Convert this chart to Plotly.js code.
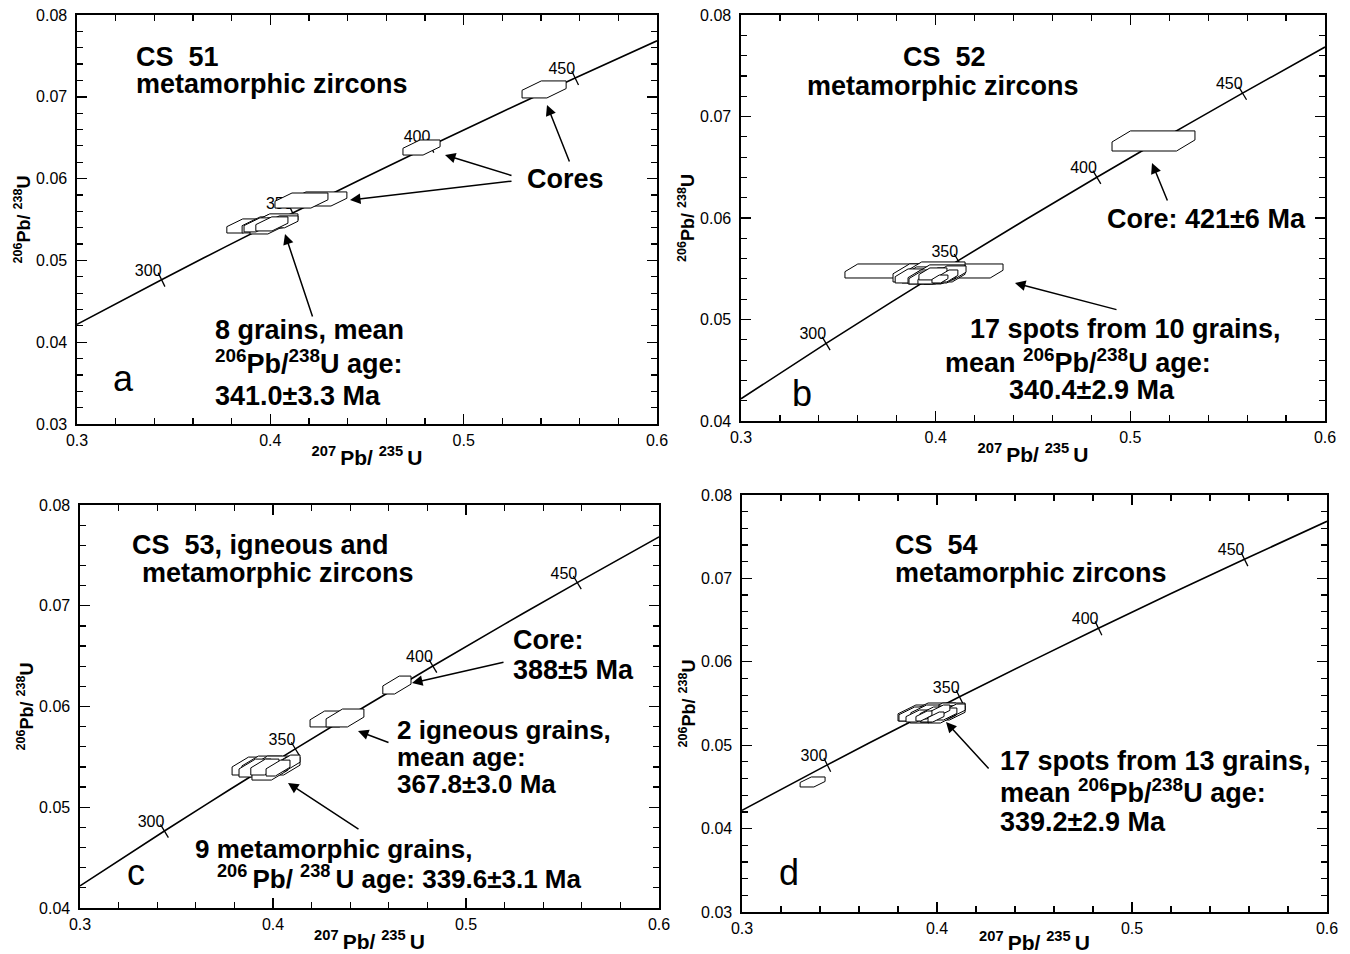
<!DOCTYPE html>
<html><head><meta charset="utf-8">
<script src="https://cdn.plot.ly/plotly-3.0.1.min.js"></script>
<style>html,body{margin:0;padding:0;background:#fff}#chart{width:1350px;height:954px}</style>
</head><body><div id="chart"></div>
<script>
// ---------- DATA ----------
// Concordia curve reference points (age in Ma, 207Pb/235U, 206Pb/238U)
const concAge = [266.4, 300, 325, 350, 375, 400, 425, 450, 477.2];
const concX = [0.3000, 0.34374, 0.37723, 0.41156, 0.44675, 0.48281, 0.51977, 0.55766, 0.6000];
const concY = [0.04219, 0.04764, 0.05171, 0.05580, 0.05990, 0.06402, 0.06815, 0.07230, 0.07684];
// Age tick marks on concordia
const tickLabels = ['300', '350', '400', '450'];
const tickX = [0.34374, 0.41156, 0.48281, 0.55766];
const tickY = [0.04764, 0.05580, 0.06402, 0.07230];

// Panel a (CS 51): error boxes centre x, centre y, half-width, half-height
const aX  = [0.5416, 0.4782, 0.4249, 0.4161, 0.3858, 0.3957, 0.3998, 0.4029, 0.3988, 0.3936, 0.4060, 0.4008];
const aY  = [0.0709, 0.0638, 0.05751, 0.05732, 0.05421, 0.05434, 0.05458, 0.05483, 0.05421, 0.05434, 0.05471, 0.05446];
const aSX = [0.0114, 0.0096, 0.0147, 0.0137, 0.0083, 0.0103, 0.0103, 0.0114, 0.0093, 0.0072, 0.0083, 0.0083];
const aSY = [0.00104, 0.00092, 0.00086, 0.00092, 0.00086, 0.00098, 0.00098, 0.00086, 0.00098, 0.00086, 0.00073, 0.00086];

// Panel b (CS 52)
const bX  = [0.5119, 0.3940, 0.3945, 0.3997, 0.3971, 0.3920, 0.4022, 0.3961, 0.4048, 0.3997, 0.3945, 0.4074, 0.4012, 0.4033, 0.3971, 0.4053, 0.3986, 0.4063, 0.4022];
const bY  = [0.06759, 0.05478, 0.05459, 0.05478, 0.05439, 0.05429, 0.05459, 0.05419, 0.05439, 0.05429, 0.05409, 0.05459, 0.05409, 0.05419, 0.05399, 0.05409, 0.05449, 0.05429, 0.05399];
const bSX = [0.0213, 0.0406, 0.0164, 0.0154, 0.0144, 0.0128, 0.0128, 0.0103, 0.0103, 0.0092, 0.0082, 0.0082, 0.0072, 0.0062, 0.0062, 0.0051, 0.0072, 0.0051, 0.0041];
const bSY = [0.00099, 0.00069, 0.00089, 0.00089, 0.00079, 0.00069, 0.00079, 0.00069, 0.00069, 0.00069, 0.00059, 0.00069, 0.00059, 0.00059, 0.00049, 0.00049, 0.00059, 0.00059, 0.00039];

// Panel c (CS 53)
const cX  = [0.4642, 0.4306, 0.4373, 0.3881, 0.3943, 0.4010, 0.4062, 0.3907, 0.3984, 0.4078, 0.3958, 0.4026];
const cY  = [0.06213, 0.05876, 0.05886, 0.05409, 0.05419, 0.05429, 0.05409, 0.05389, 0.05359, 0.05439, 0.05399, 0.05389];
const cSX = [0.0073, 0.0114, 0.0098, 0.0093, 0.0104, 0.0114, 0.0078, 0.0083, 0.0093, 0.0062, 0.0073, 0.0062];
const cSY = [0.00089, 0.00079, 0.00089, 0.00089, 0.00089, 0.00079, 0.00089, 0.00089, 0.00089, 0.00079, 0.00079, 0.00079];

// Panel d (CS 54)
const dX  = [0.3362, 0.3913, 0.3974, 0.4041, 0.3954, 0.4067, 0.3887, 0.4005, 0.3938, 0.4026, 0.4082, 0.3979, 0.3903, 0.4051, 0.3964, 0.4015, 0.3933, 0.3995];
const dY  = [0.04559, 0.05386, 0.05398, 0.05410, 0.05362, 0.05386, 0.05374, 0.05374, 0.05398, 0.05350, 0.05410, 0.05350, 0.05350, 0.05374, 0.05386, 0.05410, 0.05350, 0.05338];
const dSX = [0.0064, 0.0113, 0.0123, 0.0103, 0.0092, 0.0077, 0.0082, 0.0092, 0.0072, 0.0072, 0.0062, 0.0062, 0.0062, 0.0051, 0.0051, 0.0051, 0.0041, 0.0041];
const dSY = [0.0006, 0.00096, 0.00108, 0.00096, 0.00096, 0.00084, 0.00084, 0.00096, 0.00084, 0.00084, 0.00084, 0.00072, 0.00072, 0.00072, 0.00072, 0.00072, 0.0006, 0.0006];

// ---------- LAYOUT / STYLE ----------
const W = 1350, H = 954;
const FONT = 'Liberation Sans, Arial, Helvetica, sans-serif';
const CORR_SLOPE = 0.115;  // direction of error-box chamfer
const CUT_FRAC = 0.55;

const panels = [
  {id: '',  xs: 'x',  ys: 'y',  X: aX, Y: aY, SX: aSX, SY: aSY, px: [77, 657],   py: [15, 424],  yr: [0.03, 0.08]},
  {id: '2', xs: 'x2', ys: 'y2', X: bX, Y: bY, SX: bSX, SY: bSY, px: [741, 1325], py: [15, 421],  yr: [0.04, 0.08]},
  {id: '3', xs: 'x3', ys: 'y3', X: cX, Y: cY, SX: cSX, SY: cSY, px: [80, 659],   py: [505, 908], yr: [0.04, 0.08]},
  {id: '4', xs: 'x4', ys: 'y4', X: dX, Y: dY, SX: dSX, SY: dSY, px: [742, 1327], py: [495, 912], yr: [0.03, 0.08]}
];

function hexBox(cx, cy, hw, hh) {
  const x1 = cx - hw, x2 = cx + hw, y1 = cy - hh, y2 = cy + hh;
  const cutY = CUT_FRAC * 2 * hh;
  let cutX = cutY / CORR_SLOPE;
  if (cutX > 0.7 * 2 * hw) cutX = 0.7 * 2 * hw;
  return {
    x: [x1, x1, x1 + cutX, x2, x2, x2 - cutX, x1],
    y: [y1, y2 - cutY, y2, y2, y1 + cutY, y1, y1]
  };
}

const traces = [];
const layout = {
  width: W, height: H,
  margin: {l: 0, r: 0, t: 0, b: 0},
  paper_bgcolor: '#fff', plot_bgcolor: '#fff',
  showlegend: false,
  font: {family: FONT, color: '#000'},
  annotations: []
};

panels.forEach(p => {
  const xd = [p.px[0] / W, p.px[1] / W];
  const yd = [1 - p.py[1] / H, 1 - p.py[0] / H];
  const common = {
    showline: true, linecolor: '#000', linewidth: 1.6, mirror: 'ticks',
    ticks: 'inside', ticklen: 10, tickwidth: 1.4, tickcolor: '#000',
    showgrid: false, zeroline: false, fixedrange: true,
    tickfont: {family: FONT, size: 16, color: '#000'}
  };
  layout['xaxis' + p.id] = Object.assign({}, common, {
    domain: xd, range: [0.3, 0.6], anchor: p.ys, dtick: 0.1, tick0: 0.3, tickformat: '.1f',
    ticklabelstandoff: 1,
    minor: {dtick: 0.02, ticks: 'inside', ticklen: 6, tickwidth: 1.2, tickcolor: '#000', showgrid: false},
    title: {text: '<b><sup>207 </sup>Pb/ <sup>235 </sup>U</b>', font: {family: FONT, size: 21}, standoff: 2}
  });
  layout['yaxis' + p.id] = Object.assign({}, common, {
    domain: yd, range: p.yr, anchor: p.xs, dtick: 0.01, tick0: 0.03, tickformat: '.2f',
    ticklabelstandoff: 5,
    minor: {dtick: 0.002, ticks: 'inside', ticklen: 6, tickwidth: 1.2, tickcolor: '#000', showgrid: false},
    title: {text: '<b><sup>206</sup>Pb/ <sup>238</sup>U</b>', font: {family: FONT, size: 18}, standoff: 1}
  });

  // concordia curve
  traces.push({type: 'scatter', mode: 'lines', x: concX, y: concY, xaxis: p.xs, yaxis: p.ys,
    line: {color: '#000', width: 1.6, shape: 'spline'}, hoverinfo: 'skip'});
  // age labels
  traces.push({type: 'scatter', mode: 'text', x: tickX, y: tickY, text: tickLabels, xaxis: p.xs, yaxis: p.ys,
    textposition: 'top left', textfont: {family: FONT, size: 16, color: '#000'}, hoverinfo: 'skip'});
  // age tick marks, perpendicular to the curve
  const pxPerX = (p.px[1] - p.px[0]) / 0.3;
  const pxPerY = (p.py[1] - p.py[0]) / (p.yr[1] - p.yr[0]);
  const s = (tickY[3] - tickY[0]) / (tickX[3] - tickX[0]);
  const ang = Math.atan(s * pxPerY / pxPerX) * 180 / Math.PI;
  traces.push({type: 'scatter', mode: 'markers', x: tickX, y: tickY, xaxis: p.xs, yaxis: p.ys,
    marker: {symbol: 'line-ns', size: 11, angle: -ang, line: {color: '#000', width: 1.3}}, hoverinfo: 'skip'});
  // error boxes
  for (let i = 0; i < p.X.length; i++) {
    const hb = hexBox(p.X[i], p.Y[i], p.SX[i], p.SY[i]);
    traces.push({type: 'scatter', mode: 'lines', x: hb.x, y: hb.y, xaxis: p.xs, yaxis: p.ys,
      fill: 'toself', fillcolor: '#fff', line: {color: '#000', width: 1}, hoverinfo: 'skip'});
  }
});

// ---------- ANNOTATIONS ----------
function txt(t, px, py, size, bold, anchor) {
  layout.annotations.push({
    text: bold === false ? t : '<b>' + t + '</b>',
    x: px / W, y: 1 - py / H, xref: 'paper', yref: 'paper',
    xanchor: anchor || 'left', yanchor: 'middle', showarrow: false,
    font: {family: FONT, size: size || 27, color: '#000'}
  });
}
function arrow(tx, ty, hx, hy) {
  layout.annotations.push({
    text: '', x: hx / W, y: 1 - hy / H, xref: 'paper', yref: 'paper',
    ax: tx - hx, ay: ty - hy, showarrow: true,
    arrowhead: 2, arrowsize: 1.4, arrowwidth: 1.5, arrowcolor: '#000', standoff: 0
  });
}
const NB = '\u00a0';
// Panel a
txt('CS' + NB + NB + '51', 134, 57);
txt('metamorphic zircons', 134, 84);
txt('Cores', 525, 179);
txt('8 grains, mean', 213, 330);
txt('<sup>206</sup>Pb/<sup>238</sup>U age:', 213, 362);
txt('341.0±3.3 Ma', 213, 396);
txt('a', 111, 378, 36, false);
arrow(513, 176, 445, 155);
arrow(513, 181, 350, 200);
arrow(570, 163, 547, 105);
arrow(313, 318, 285, 234);
// Panel b
txt('CS' + NB + NB + '52', 944, 57, 27, true, 'center');
txt('metamorphic zircons', 943, 86, 27, true, 'center');
txt('Core: 421±6 Ma', 1105, 219);
txt('17 spots from 10 grains,', 968, 329);
txt('mean <sup>206</sup>Pb/<sup>238</sup>U age:', 943, 361);
txt('340.4±2.9 Ma', 1007, 390);
txt('b', 790, 393, 36, false);
arrow(1168, 202, 1152, 163);
arrow(1118, 310, 1015, 283);
// Panel c
txt('CS' + NB + NB + '53, igneous and', 130, 545);
txt('metamorphic zircons', 140, 573);
txt('Core:', 511, 640);
txt('388±5 Ma', 511, 670);
txt('2 igneous grains,', 395, 730, 26);
txt('mean age:', 395, 757, 26);
txt('367.8±3.0 Ma', 395, 784, 26);
txt('9 metamorphic grains,', 193, 849, 26);
txt('<sup>206 </sup>Pb/ <sup>238 </sup>U age: 339.6±3.1 Ma', 215, 877, 26);
txt('c', 125, 872, 36, false);
arrow(505, 662, 412, 683);
arrow(390, 743, 358, 731);
arrow(360, 830, 288, 783);
// Panel d
txt('CS' + NB + NB + '54', 893, 545);
txt('metamorphic zircons', 893, 573);
txt('17 spots from 13 grains,', 998, 761);
txt('mean <sup>206</sup>Pb/<sup>238</sup>U age:', 998, 791);
txt('339.2±2.9 Ma', 998, 822);
txt('d', 777, 872, 36, false);
arrow(990, 770, 946, 722);

Plotly.newPlot('chart', traces, layout, {staticPlot: true, displayModeBar: false});
</script>
</body></html>
